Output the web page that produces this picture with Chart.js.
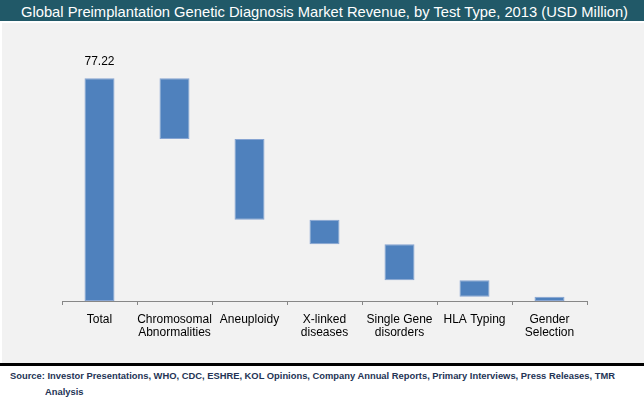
<!DOCTYPE html>
<html>
<head>
<meta charset="utf-8">
<script src="https://cdn.jsdelivr.net/npm/chart.js@4.4.0/dist/chart.umd.min.js"></script>
<style>
  html, body { margin: 0; padding: 0; background: #ffffff; }
  body { width: 644px; height: 399px; position: relative; overflow: hidden; font-family: "Liberation Sans", Arial, sans-serif; }
  #titlebar { position: absolute; left: 0; top: 0; width: 644px; height: 21px; background: #215968; }
  #title { position: absolute; display: inline-block; left: 20.7px; top: 2px; color: #ffffff; font-size: 15px; line-height: 19px; white-space: nowrap; transform-origin: 0 0; }
  #panel { position: absolute; left: 2px; top: 23px; width: 642px; height: 340px; background: #f2f2f2; }
  #rule { position: absolute; left: 0; top: 363px; width: 644px; height: 3px; background: #000000; }
  #chartwrap { position: absolute; left: 0; top: 23px; width: 644px; height: 340px; }
  .src { position: absolute; display: inline-block; color: #243455; font-weight: bold; font-size: 9px; line-height: 11px; white-space: nowrap; transform-origin: 0 0; }
  #src1 { left: 10px; top: 371px; }
  #src2 { left: 45px; top: 387px; }
</style>
</head>
<body>
<div id="titlebar"><span id="title">Global Preimplantation Genetic Diagnosis Market Revenue, by Test Type, 2013 (USD Million)</span></div>
<div id="panel"></div>
<div id="chartwrap"><canvas id="c" width="644" height="340"></canvas></div>
<div id="rule"></div>
<span class="src" id="src1">Source: Investor Presentations, WHO, CDC, ESHRE, KOL Opinions, Company Annual Reports, Primary Interviews, Press Releases, TMR</span>
<span class="src" id="src2">Analysis</span>
<script>
// ---- data ----
const categories = [
  "Total",
  ["Chromosomal", "Abnormalities"],
  "Aneuploidy",
  ["X-linked", "diseases"],
  ["Single Gene", "disorders"],
  "HLA Typing",
  ["Gender", "Selection"]
];
const totalValue = 77.22;
const segmentValues = [21.05, 27.97, 8.55, 12.47, 5.69, 1.49]; // by test type
const totalLabel = "77.22";

// build floating bars for the waterfall
const floating = [[0, totalValue]];
let level = totalValue;
for (const v of segmentValues) {
  const next = Math.max(0, +(level - v).toFixed(2));
  floating.push([next, level]);
  level = next;
}

// fit compressed header/footer text
function fitWidth(id, target) {
  const el = document.getElementById(id);
  const w = el.getBoundingClientRect().width;
  const s = target / w;
  el.style.transform = "scaleX(" + s + ")";
  return s;
}
fitWidth("title", 607);
const s1 = fitWidth("src1", 605);
document.getElementById("src2").style.transform = "scaleX(" + s1 + ")";

const valueLabelPlugin = {
  id: "valueLabel",
  afterDatasetsDraw(chart) {
    const bar = chart.getDatasetMeta(0).data[0];
    const ctx = chart.ctx;
    ctx.save();
    ctx.font = '12px "Liberation Sans", Arial, sans-serif';
    ctx.fillStyle = "#000000";
    ctx.textAlign = "center";
    ctx.textBaseline = "middle";
    ctx.fillText(totalLabel, bar.x, bar.y - 16.5);
    ctx.restore();
  }
};

new Chart(document.getElementById("c"), {
  type: "bar",
  data: {
    labels: categories,
    datasets: [{
      data: floating,
      backgroundColor: "#4f81bd",
      borderColor: "#86a4d2",
      borderWidth: 1,
      borderSkipped: false,
      barPercentage: 0.4,
      categoryPercentage: 1.0
    }]
  },
  options: {
    responsive: false,
    devicePixelRatio: 1,
    animation: false,
    layout: { padding: { left: 62, right: 57, top: 18.4, bottom: 0 } },
    plugins: { legend: { display: false }, tooltip: { enabled: false } },
    scales: {
      x: {
        offset: true,
        afterFit(scale) { scale.height = 62; },
        border: { display: true, color: "#878787", width: 1 },
        grid: { display: true, drawOnChartArea: false, drawTicks: true, tickLength: 4, color: "#878787", offset: true },
        ticks: {
          color: "#000000",
          padding: 8,
          maxRotation: 0,
          autoSkip: false,
          font: { family: '"Liberation Sans", Arial, sans-serif', size: 12, lineHeight: 1.1 }
        }
      },
      y: { display: false, min: 0, max: 90 }
    }
  },
  plugins: [valueLabelPlugin]
});
</script>
</body>
</html>
